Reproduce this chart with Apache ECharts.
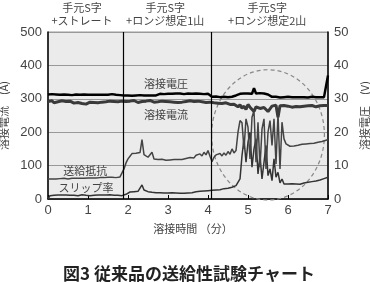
<!DOCTYPE html>
<html><head><meta charset="utf-8">
<script src="https://cdn.jsdelivr.net/npm/echarts@6/dist/echarts.min.js"></script>
<style>html,body{margin:0;padding:0;background:#fff}#c{width:370px;height:282px}</style>
</head><body><div id="c"></div>
<script>
// time (min)
const times = [
0,0.05,0.1,0.15,0.2,0.25,0.3,0.35,0.4,0.45,0.5,0.55,0.6,0.65,0.7,0.75,0.8,0.85,0.9,0.95,
1,1.05,1.1,1.15,1.2,1.25,1.3,1.35,1.4,1.45,1.5,1.55,1.6,1.65,1.7,1.75,1.8,1.85,1.9,1.95,
2,2.05,2.1,2.15,2.2,2.25,2.3,2.35,2.4,2.45,2.5,2.55,2.6,2.65,2.7,2.75,2.8,2.85,2.9,2.95,
3,3.05,3.1,3.15,3.2,3.25,3.3,3.35,3.4,3.45,3.5,3.55,3.6,3.65,3.7,3.75,3.8,3.85,3.9,3.95,
4,4.05,4.1,4.15,4.2,4.25,4.3,4.35,4.4,4.45,4.5,4.55,4.6,4.65,4.7,4.75,4.8,4.85,4.9,4.95,
5,5.05,5.1,5.15,5.2,5.25,5.3,5.35,5.4,5.45,5.5,5.55,5.6,5.65,5.7,5.75,5.8,5.85,5.9,5.95,
6,6.05,6.1,6.15,6.2,6.25,6.3,6.35,6.4,6.45,6.5,6.55,6.6,6.65,6.7,6.75,6.8,6.85,6.9,6.95,
7];
// 溶接電圧 (V)
const voltage = [
31.3,31.2,31.4,31.2,31.3,31.1,31.2,31.4,31.3,31.2,31.2,31.3,31.1,31.2,31.3,31.4,31.2,31.2,31.3,31.1,
31.2,31.3,31.2,31.4,31.2,31.3,31.2,31.1,31.2,31.3,31.2,31.2,31.4,31.3,31.2,31.2,31.1,31.2,
31.0,30.9,31.0,31.1,30.9,31.0,31.0,30.9,31.1,31.0,31.0,30.9,31.0,31.1,31.0,30.9,31.0,31.0,
31.5,31.6,31.4,31.6,31.5,31.6,31.5,31.4,31.6,31.5,31.6,31.5,31.4,31.5,31.6,31.5,31.5,31.4,31.6,31.5,31.5,31.6,31.4,31.5,31.5,31.4,
30.6,30.5,30.7,30.6,30.5,30.6,30.6,30.7,30.5,30.6,30.6,30.7,
31.0,31.3,31.5,31.4,31.6,31.5,31.6,31.8,31.5,33.2,31.6,31.5,31.7,31.4,31.6,31.5,31.3,31.2,
30.6,30.5,30.6,30.5,30.4,30.6,30.5,30.5,30.6,30.4,30.5,30.6,30.5,30.4,30.5,30.6,30.5,30.5,30.4,30.5,30.6,30.5,30.5,30.4,30.5,30.6,30.5,30.5,
37.0];
// 溶接電流 (A)
const current = [
292,290,294,288,293,291,289,294,290,292,288,293,290,287,292,289,291,286,290,284,288,290,293,289,291,288,292,290,294,291,289,293,290,292,288,291,290,293,
288,292,289,293,290,295,291,289,294,292,290,293,291,295,292,290,294,291,
290,293,289,292,288,291,294,290,292,289,293,290,288,292,291,294,289,292,290,293,288,291,292,289,293,290,
285,288,283,287,284,286,282,288,285,283,287,284,
280,276,282,272,278,268,283,275,270,262,276,280,271,266,274,279,262,270,
278,275,281,245,279,274,280,276,278,282,275,279,277,280,276,281,278,275,279,277,280,278,276,281,279,277,280,278,
280];
// 送給抵抗
const feedResistance = [
60,59,60,61,60,60,61,60,62,61,60,61,62,61,62,61,62,63,62,62,63,62,63,64,63,63,64,63,64,64,65,64,65,65,64,65,66,
68,90,108,120,128,136,140,137,142,139,178,133,128,125,122,140,120,
119,118,117,119,118,116,118,117,119,118,117,118,120,118,119,121,120,
124,128,123,131,126,135,129,140,132,145,128,
112,
125,132,128,136,129,138,131,142,134,150,138,145,
200,235,
228,150,240,215,120,245,265,110,230,95,210,240,90,200,235,160,240,105,255,90,230,180,165,
160,158,162,159,163,161,160,164,162,165,163,166,164,167,168,170,169,172,174,176,
178];
// スリップ率
const slipRate = [
0,
10,12,11,13,12,11,12,10,12,13,11,12,11,12,10,11,13,12,11,12,10,12,11,13,12,11,12,10,12,11,13,12,11,12,11,12,
10,8,14,18,
21,23,22,24,23,25,
42,27,
24,22,21,20,22,19,18,19,17,18,16,18,17,19,17,18,16,17,18,17,19,18,
20,19,21,22,20,23,21,24,22,25,23,
26,28,27,29,28,30,31,30,32,33,35,37,40,
35,60,130,180,110,170,200,95,150,180,75,130,60,110,160,70,90,55,120,65,80,48,60,45,
47,45,44,46,43,45,47,44,46,48,47,50,49,52,51,54,55,57,59,61,63,
65];
const sectionBreaks = [1.87, 4.08];

const pair = arr => times.map((t,i)=>[t, arr[i]]);
const FONT = '"Noto Sans CJK JP","Noto Sans",sans-serif';
const NUMFONT = '"Liberation Sans",Arial,sans-serif';

const chart = echarts.init(document.getElementById('c'), null, {renderer:'canvas'});
chart.setOption({
  animation:false,
  backgroundColor:'#fff',
  title:{text:'図3 従来品の送給性試験チャート', left:58, top:260,
    textStyle:{fontSize:17, fontWeight:'bold', color:'#222', fontFamily:FONT}},
  grid:{left:48, right:42, top:32, bottom:83, containLabel:false, outerBoundsMode:'none',
    show:true, backgroundColor:'#ebebeb', borderColor:'#999', borderWidth:1},
  xAxis:{type:'value', min:0, max:7, interval:1,
    name:'溶接時間 （分）', nameLocation:'middle', nameGap:24,
    nameTextStyle:{fontSize:11, color:'#444', fontFamily:FONT, padding:[0,0,0,10]},
    axisLine:{show:true, onZero:false, lineStyle:{color:'#000', width:1.5}},
    axisTick:{show:true, inside:true, length:4, lineStyle:{color:'#000'}},
    axisLabel:{fontSize:13, color:'#444', margin:5, fontFamily:NUMFONT},
    splitLine:{show:false}},
  yAxis:[
    {type:'value', min:0, max:500, interval:100, position:'left',
     name:'溶接電流　(A)', nameLocation:'middle', nameGap:32, nameRotate:90,
     nameTextStyle:{fontSize:11, color:'#444', fontFamily:FONT},
     axisLine:{show:true, lineStyle:{color:'#000', width:1.5}},
     axisTick:{show:false},
     axisLabel:{fontSize:13, color:'#444', margin:6, fontFamily:NUMFONT},
     splitLine:{show:true, lineStyle:{color:'#999', width:1}}},
    {type:'value', min:0, max:50, interval:10, position:'right',
     name:'溶接電圧　(V)', nameLocation:'middle', nameGap:28, nameRotate:90,
     nameTextStyle:{fontSize:11, color:'#444', fontFamily:FONT},
     axisLine:{show:true, lineStyle:{color:'#000', width:1.5}},
     axisTick:{show:false},
     axisLabel:{fontSize:13, color:'#444', margin:6, fontFamily:NUMFONT},
     splitLine:{show:false}}
  ],
  series:[
    {name:'スリップ率', type:'line', yAxisIndex:0, data:pair(slipRate), showSymbol:false,
     lineStyle:{color:'#333', width:1.5}, z:3},
    {name:'送給抵抗', type:'line', yAxisIndex:0, data:pair(feedResistance), showSymbol:false,
     lineStyle:{color:'#444', width:1.5}, z:3,
     markLine:{silent:true, symbol:'none', label:{show:false},
       lineStyle:{color:'#000', width:1.2, type:'solid'},
       data:sectionBreaks.map(v=>({xAxis:v}))}},
    {name:'溶接電流', type:'line', yAxisIndex:0, data:pair(current), showSymbol:false,
     lineStyle:{color:'#3a3a3a', width:3}, z:4},
    {name:'溶接電圧', type:'line', yAxisIndex:1, data:pair(voltage), showSymbol:false,
     lineStyle:{color:'#000', width:2.5}, z:5}
  ]
});

// annotations placed via data coordinates
const P = (x,y)=>chart.convertToPixel({xAxisIndex:0,yAxisIndex:0},[x,y]);
const c = P(5.5,192), e = P(6.91,387);
const topNotes = [[0.85,'手元S字','+ストレート'],[2.93,'手元S字','+ロンジ想定1山'],[5.48,'手元S字','+ロンジ想定2山']];
const inLabels = [[2.95,344,'溶接電圧'],[2.95,252,'溶接電流'],[0.93,84,'送給抵抗'],[0.95,33,'スリップ率']];
const g = [
  {type:'ellipse', z:1, silent:true, shape:{cx:c[0], cy:c[1], rx:Math.abs(e[0]-c[0]), ry:Math.abs(c[1]-e[1])},
   style:{fill:'none', stroke:'#888', lineWidth:1.2, lineDash:[4,3]}}
];
topNotes.forEach(n=>{
  const px = P(n[0],0)[0];
  g.push({type:'text', x:px, y:8, style:{text:n[1], fill:'#444', font:'11px '+FONT, textAlign:'center', textVerticalAlign:'middle'}});
  g.push({type:'text', x:px, y:21, style:{text:n[2], fill:'#444', font:'11px '+FONT, textAlign:'center', textVerticalAlign:'middle'}});
});
inLabels.forEach(l=>{
  const p = P(l[0],l[1]);
  g.push({type:'text', x:p[0], y:p[1], z:10, style:{text:l[2], fill:'#444', font:'11px '+FONT, textAlign:'center', textVerticalAlign:'middle'}});
});
chart.setOption({graphic:g});
</script>
</body></html>
